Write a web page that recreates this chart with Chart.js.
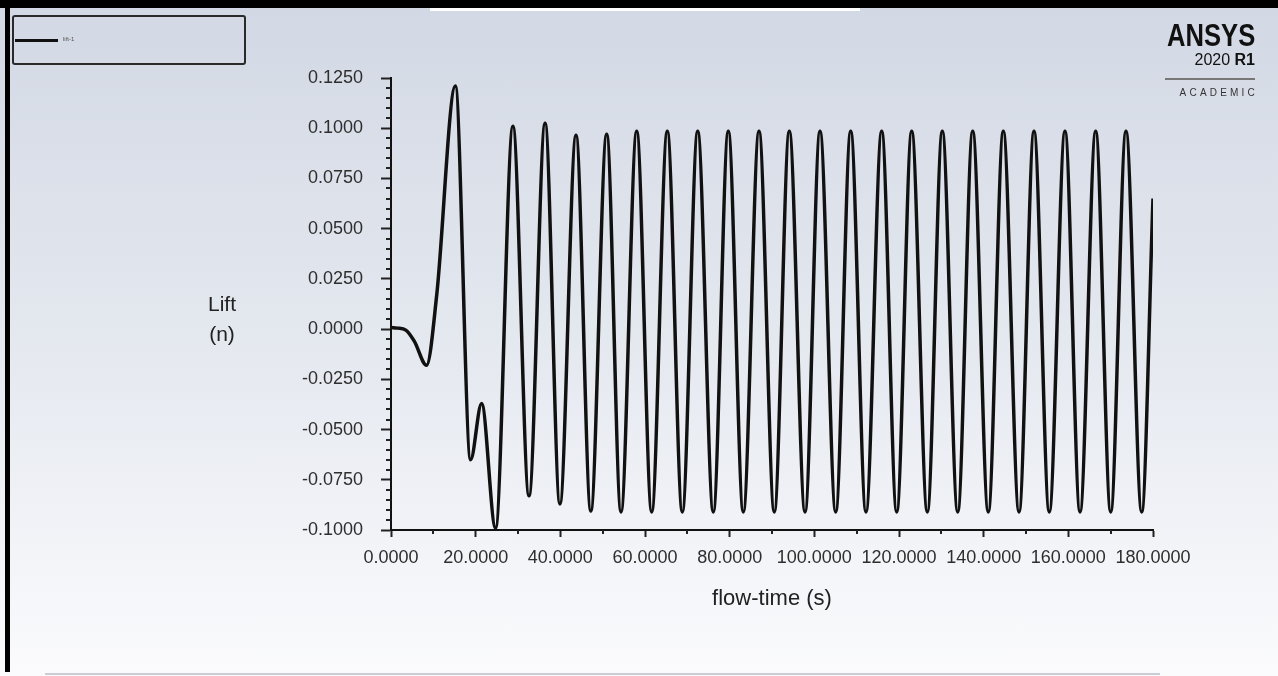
<!DOCTYPE html>
<html>
<head>
<meta charset="utf-8">
<script src="https://cdn.jsdelivr.net/npm/chart.js@4.4.1/dist/chart.umd.min.js"></script>
<style>
  html, body { margin: 0; padding: 0; }
  body {
    width: 1278px; height: 676px; position: relative; overflow: hidden;
    background: linear-gradient(to bottom, #d2d8e4 0%, #e4e8ef 50%, #fbfbfd 100%);
    font-family: "Liberation Sans", Arial, sans-serif;
  }
  #chart { position: absolute; left: 0; top: 0; }
  .frame { position: absolute; background: #000; }
  #legend {
    position: absolute; left: 12px; top: 15px; width: 234px; height: 50px;
    box-sizing: border-box; border: 2px solid #2a2a2a; border-radius: 3px;
  }
  #legend .sample { position: absolute; left: 1px; top: 22px; width: 43px; height: 3px; background: #111; }
  #legend .label { position: absolute; left: 49px; top: 19px; font-size: 6px; color: #555; }
  #ytitle {
    position: absolute; left: 172px; top: 289px; width: 100px; text-align: center;
    font-size: 21px; line-height: 30px; color: #222;
  }
  #logo { position: absolute; right: 23px; top: 19px; text-align: right; color: #111; }
  #logo .brand { font-weight: bold; font-size: 32px; line-height: 32px; transform: scaleX(0.8); transform-origin: right; }
  #logo .ver { font-size: 16px; line-height: 18px; }
  #logo .rule { width: 90px; height: 2px; background: #777; margin: 9px 0 0 auto; }
  #logo .acad { font-size: 10px; letter-spacing: 3.2px; margin-top: 7px; margin-right: -3px; color: #333; }
</style>
</head>
<body>
<canvas id="chart" width="1278" height="676"></canvas>

<div class="frame" style="left:0;top:0;width:1278px;height:8px;"></div>
<div style="position:absolute;left:430px;top:8px;width:430px;height:3px;background:#fff;"></div>
<div class="frame" style="left:5px;top:0;width:5px;height:672px;"></div>
<div style="position:absolute;left:45px;top:673px;width:1115px;height:2px;background:#c9cdd6;"></div>

<div id="legend"><div class="sample"></div><div class="label">lift-1</div></div>
<div id="ytitle">Lift<br>(n)</div>
<div id="logo">
  <div class="brand">ANSYS</div>
  <div class="ver">2020 <b>R1</b></div>
  <div class="rule"></div>
  <div class="acad">ACADEMIC</div>
</div>

<script>
// valeurs (extrema + quelques points du début)
const flowTime = [0, 1.5, 3.5, 5.5, 8.4, 10.8, 15.2, 18.8, 21.4, 24.7,
    28.8, 32.6, 36.4, 39.9, 43.7, 47.2,
    50.95, 54.33, 58.04, 61.58, 65.27, 68.81, 72.45, 76.13, 79.68, 83.22,
    86.93, 90.54, 94.09, 97.80, 101.34, 105.05, 108.59, 112.20, 115.91, 119.46,
    123.00, 126.69, 130.23, 133.87, 137.41, 141.09, 144.64, 148.35, 151.89, 155.50,
    159.21, 162.76, 166.46, 170.01, 173.62, 177.33, 180];
const liftValues = [0.0008, 0.0005, -0.0005, -0.006, -0.018, 0.017, 0.121, -0.065, -0.037, -0.099,
    0.101, -0.083, 0.1025, -0.087, 0.0965, -0.0905,
    0.097, -0.091, 0.0985, -0.091, 0.0985, -0.091, 0.0985, -0.091, 0.0985, -0.091,
    0.0985, -0.091, 0.0985, -0.091, 0.0985, -0.091, 0.0985, -0.091, 0.0985, -0.091,
    0.0985, -0.091, 0.0985, -0.091, 0.0985, -0.091, 0.0985, -0.091, 0.0985, -0.091,
    0.0985, -0.091, 0.0985, -0.091, 0.0985, -0.091, 0.065];

const xTicks = [0, 20, 40, 60, 80, 100, 120, 140, 160, 180];
const yTicks = [-0.1, -0.075, -0.05, -0.025, 0, 0.025, 0.05, 0.075, 0.1, 0.125];
const seriesLabel = 'lift-1';

// petits traits secondaires des axes
const minorTicks = {
    id: 'minorTicks',
    afterDraw(chart) {
        const ctx = chart.ctx;
        const xs = chart.scales.x;
        const ys = chart.scales.y;
        ctx.save();
        ctx.strokeStyle = '#222';
        ctx.lineWidth = 2;
        ctx.beginPath();
        for (let i = 0; i < yTicks.length - 1; i++) {
            for (let k = 1; k < 5; k++) {
                const v = yTicks[i] + (yTicks[i + 1] - yTicks[i]) * k / 5;
                const py = Math.round(ys.getPixelForValue(v));
                ctx.moveTo(xs.left - 5, py);
                ctx.lineTo(xs.left, py);
            }
        }
        for (let i = 0; i < xTicks.length - 1; i++) {
            const px = Math.round(xs.getPixelForValue((xTicks[i] + xTicks[i + 1]) / 2));
            ctx.moveTo(px, ys.bottom);
            ctx.lineTo(px, ys.bottom + 4);
        }
        ctx.stroke();
        ctx.restore();
    }
};

const points = flowTime.map((t, i) => ({x: t, y: liftValues[i]}));

new Chart(document.getElementById('chart'), {
    type: 'line',
    data: {
        datasets: [{
            label: seriesLabel,
            data: points,
            borderColor: '#111',
            borderWidth: 3.5,
            pointRadius: 0,
            fill: false,
            cubicInterpolationMode: 'monotone'
        }]
    },
    options: {
        responsive: false,
        animation: false,
        layout: {padding: {top: 78, right: 125, left: 0, bottom: 0}},
        plugins: {legend: {display: false}, tooltip: {enabled: false}},
        scales: {
            x: {
                type: 'linear',
                min: 0, max: 180,
                afterFit(scale) { scale.height = 146; },
                afterBuildTicks(scale) { scale.ticks = xTicks.map(v => ({value: v})); },
                ticks: {
                    autoSkip: false, maxRotation: 0, padding: 10,
                    color: '#2e2e2e', font: {family: 'Liberation Sans', size: 18},
                    callback: v => v.toFixed(4)
                },
                grid: {drawOnChartArea: false, tickLength: 7, tickWidth: 2, tickColor: '#222'},
                border: {display: true, color: '#111', width: 2},
                title: {
                    display: true, text: 'flow-time (s)', color: '#222',
                    font: {family: 'Liberation Sans', size: 22},
                    padding: {top: 0, bottom: 64}
                }
            },
            y: {
                type: 'linear',
                min: -0.1, max: 0.125,
                afterFit(scale) { scale.width = 391; },
                afterBuildTicks(scale) { scale.ticks = yTicks.map(v => ({value: v})); },
                ticks: {
                    padding: 18,
                    color: '#2e2e2e', font: {family: 'Liberation Sans', size: 18},
                    callback: v => (Math.abs(v) < 1e-9 ? 0 : v).toFixed(4)
                },
                grid: {drawOnChartArea: false, tickLength: 10, tickWidth: 2, tickColor: '#222'},
                border: {display: true, color: '#111', width: 2}
            }
        }
    },
    plugins: [minorTicks]
});
</script>
</body>
</html>
